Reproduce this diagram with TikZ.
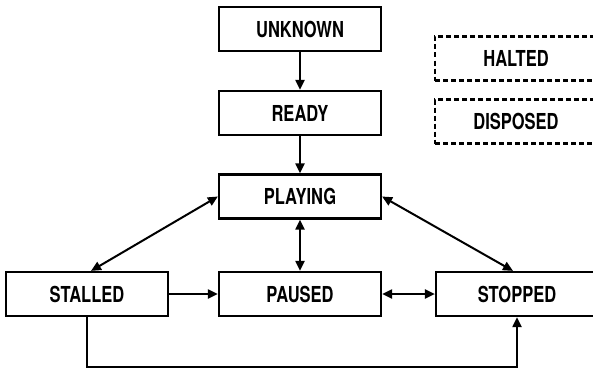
\documentclass[tikz,border=0pt]{standalone}
\usepackage{fontspec}
\setsansfont{TeX Gyre Heros}[FakeStretch=0.75]
\usepackage{tikz}
\usetikzlibrary{positioning, arrows.meta}
\tikzset{
  state/.style={
    rectangle, draw=black, line width=2.2pt, minimum width=162pt,
    minimum height=44pt, inner sep=0pt, font=\sffamily\bfseries\fontsize{22}{24}\selectfont
  },
  ghost/.style={
    state, dash pattern=on 5pt off 3pt
  },
  arrow/.style={-{Triangle[length=10pt, width=9pt]}, line width=2pt},
  both/.style={{Triangle[length=10pt, width=9pt]}-{Triangle[length=10pt, width=9pt]}, line width=2pt},
}
\begin{document}
\begin{tikzpicture}[x=1pt, y=1pt]
  \useasboundingbox (0,0) rectangle (593,-369);
  \clip (0,0) rectangle (593,-369);

  \node[state] (unknown) at (300,-29) {UNKNOWN};
  \node[state, below=37.8pt of unknown] (ready) {READY};
  \node[state, below=37.3pt of ready] (playing) {PLAYING};
  \node[state, below=51.3pt of playing] (paused) {PAUSED};
  \node[state, left=48.8pt of paused] (stalled) {STALLED};
  \node[state, right=52.8pt of paused] (stopped) {STOPPED};

  % states without transitions
  \node[ghost] (halted) at (516,-58.5) {HALTED};
  \node[ghost, below=16.8pt of halted] (disposed) {DISPOSED};

  \draw[arrow] (unknown) -- (ready);
  \draw[arrow] (ready)   -- (playing);
  \draw[both]  (playing) -- (paused);
  \draw[both]  (playing.west) -- ([xshift=4pt]stalled.north);
  \draw[both]  (playing.east) -- ([xshift=-4pt]stopped.north);
  \draw[arrow] (stalled) -- (paused);
  \draw[both]  (paused)  -- (stopped);
  \draw[arrow] (stalled.south) -- ++(0,-49.5) -| (stopped.south);

\end{tikzpicture}
\end{document}
